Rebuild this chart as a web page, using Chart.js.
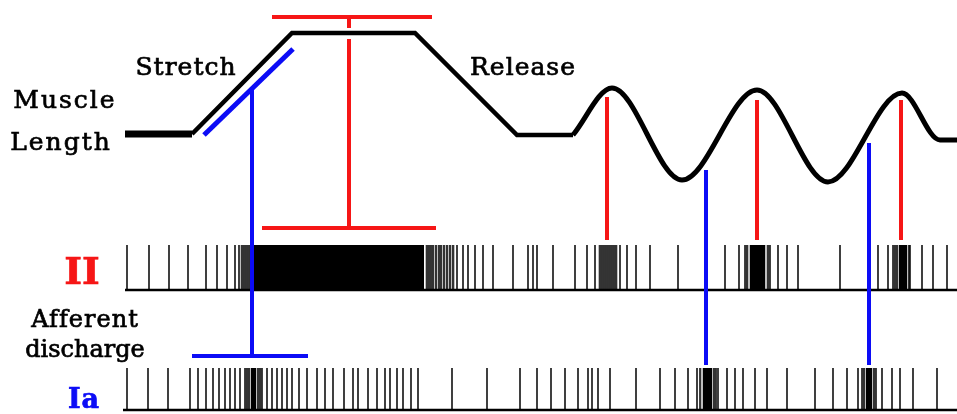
<!DOCTYPE html>
<html>
<head>
<meta charset="utf-8">
<script src="https://cdn.jsdelivr.net/npm/chart.js@4/dist/chart.umd.min.js"></script>
<style>
  html, body { margin: 0; padding: 0; background: #fff; }
  #wrap { width: 957px; height: 414px; }
</style>
</head>
<body>
<div id="wrap"><canvas id="spindle" width="957" height="414"></canvas></div>
<script>
// muscle length trace (x = time px, y = length px)
const rampX = [192, 292, 415, 517, 573];
const rampY = [134, 33, 33, 135, 135];
const restX = [125, 192];
const restY = [134, 134];
const waveX = [573, 612, 682, 757, 828, 902, 940, 957];
const waveY = [135, 88, 180, 90, 182, 93, 140, 140];

// spike times on the two afferent trains
const spikesII = [127, 149, 169, 188, 206, 217, 227, 235, 239, 242, 244, 246, 248, 250,
  427, 429, 431, 433, 436, 439, 441, 444, 447, 450, 453, 457, 463, 468, 475, 483, 493, 513, 528, 537,
  533, 553, 575, 587, 595, 600, 602, 604, 606, 608, 610, 612, 614, 616, 620, 627, 636, 650, 678,
  725, 739, 745, 747, 768, 770, 778, 787, 798, 840,
  878, 888, 893, 895, 897, 909, 910, 922, 933, 947];
const spikesIa = [127, 148, 168, 190, 198, 206, 213, 219, 225, 230, 235, 240, 245, 247, 249,
  258, 260, 262, 267, 272, 277, 282, 287, 292, 299, 307, 317, 325, 333, 344, 353, 358, 368,
  377, 385, 390, 397, 403, 411, 418, 452, 487, 520,
  537, 551, 565, 578, 588, 592, 598, 610, 636, 660, 675, 688, 697, 700, 714, 716, 718, 727, 735,
  743, 755, 767, 787, 815, 833, 847, 858, 862, 864, 874, 876, 882, 892, 900, 913, 937];
// bursts too dense to separate into single spikes [start, end]
const burstsII = [[253, 424], [750, 765], [899, 907]];
const hazeII = [[240, 252], [425, 455], [598, 618], [745, 770], [893, 910]];
const burstsIa = [[251, 256], [703, 712], [866, 872]];
const hazeIa = [[245, 262], [700, 716], [862, 876]];

// static (length, peak) and dynamic (velocity) markers
const redBarsX = [607, 757, 901];
const blueBarsX = [706, 869];

const labels = ["Muscle", "Length", "Stretch", "Release", "II", "Afferent", "discharge", "Ia"];

const RED = "rgb(246,22,22)";
const BLUE = "rgb(12,12,246)";

const II_TOP = 245, II_BASE = 290;
const IA_TOP = 368, IA_BASE = 410;

const pts = (xs, ys) => xs.map((x, i) => ({ x, y: ys[i] }));
const seg = (x0, y0, x1, y1) => [{ x: x0, y: y0 }, { x: x1, y: y1 }];
const spikes = (xs, top, base) =>
  xs.flatMap((x) => [{ x, y: top }, { x, y: base }, { x, y: null }]);

const lineDs = (data, color, width, order, extra = {}) => ({
  data, borderColor: color, borderWidth: width, pointRadius: 0,
  tension: 0, fill: false, order, borderCapStyle: "butt", ...extra,
});

const blockDs = (range, top, base, color, order) => ({
  data: seg(range[0], top, range[1], top),
  borderWidth: 0, borderColor: "transparent", backgroundColor: color,
  pointRadius: 0, fill: { value: base }, order,
});

const datasets = [
  // trace
  lineDs(pts(restX, restY), "#000", 7, 5),
  lineDs(pts(rampX, rampY), "#000", 4.5, 5, { borderJoinStyle: "miter" }),
  lineDs(pts(waveX, waveY), "#000", 5, 5, { cubicInterpolationMode: "monotone" }),
  // spike trains
  lineDs(spikes(spikesII, II_TOP, II_BASE), "#111", 1.6, 8),
  lineDs(spikes(spikesIa, IA_TOP, IA_BASE), "#111", 1.6, 8),
  lineDs(seg(125, II_BASE, 957, II_BASE), "#000", 2.5, 7),
  lineDs(seg(123, IA_BASE, 957, IA_BASE), "#000", 2.5, 7),
  ...hazeII.map((r) => blockDs(r, II_TOP, II_BASE, "rgba(40,40,40,0.3)", 9)),
  ...burstsII.map((r) => blockDs(r, II_TOP, II_BASE, "#000", 8)),
  ...hazeIa.map((r) => blockDs(r, IA_TOP, IA_BASE, "rgba(40,40,40,0.3)", 9)),
  ...burstsIa.map((r) => blockDs(r, IA_TOP, IA_BASE, "#000", 8)),
  // red static markers
  lineDs(seg(272, 17, 432, 17), RED, 4, 2),
  lineDs(seg(262, 228, 436, 228), RED, 4, 2),
  lineDs([{ x: 349, y: 17 }, { x: 349, y: 28 }, { x: 349, y: null }, { x: 349, y: 39 }, { x: 349, y: 228 }], RED, 4, 2),
  lineDs(redBarsX.flatMap((x, i) => [{ x, y: [97, 100, 100][i] }, { x, y: 240 }, { x, y: null }]), RED, 4, 2),
  // blue dynamic markers
  lineDs(seg(204, 135, 293, 49), BLUE, 5, 1),
  lineDs(seg(252, 88, 252, 356), BLUE, 4, 1),
  lineDs(seg(192, 356, 308, 356), BLUE, 4, 1),
  lineDs(blueBarsX.flatMap((x, i) => [{ x, y: [170, 143][i] }, { x, y: 365 }, { x, y: null }]), BLUE, 4, 1),
];

// text labels drawn on the canvas
const textPlugin = {
  id: "diagramText",
  afterDatasetsDraw(chart) {
    const { ctx } = chart;
    const place = [
      [65, 108, "25px 'DejaVu Serif'", "#000", "2px"],
      [61, 150, "25px 'DejaVu Serif'", "#000", "2px"],
      [186, 75, "25px 'DejaVu Serif'", "#000", "1px"],
      [523, 75, "25px 'DejaVu Serif'", "#000", "1px"],
      [82, 284, "bold 38px 'DejaVu Serif'", RED, "0px"],
      [85, 327, "24px 'DejaVu Serif'", "#000", "1px"],
      [85, 357, "24px 'DejaVu Serif'", "#000", "0px"],
      [84, 408, "bold 27px 'DejaVu Serif'", BLUE, "1px"],
    ];
    ctx.save();
    ctx.textAlign = "center";
    ctx.textBaseline = "alphabetic";
    ctx.lineWidth = 0.7;
    labels.forEach((t, i) => {
      const [x, y, font, color, ls] = place[i];
      ctx.font = font;
      ctx.letterSpacing = ls;
      ctx.fillStyle = color;
      ctx.strokeStyle = color;
      ctx.fillText(t, x, y);
      ctx.strokeText(t, x, y);
    });
    ctx.restore();
  },
};

new Chart(document.getElementById("spindle"), {
  type: "line",
  data: { datasets },
  options: {
    responsive: false,
    animation: false,
    layout: { padding: 0 },
    clip: false,
    plugins: { legend: { display: false }, tooltip: { enabled: false } },
    scales: {
      x: { type: "linear", min: 0, max: 957, display: false },
      y: { type: "linear", min: 0, max: 414, reverse: true, display: false },
    },
  },
  plugins: [textPlugin],
});
</script>
</body>
</html>
